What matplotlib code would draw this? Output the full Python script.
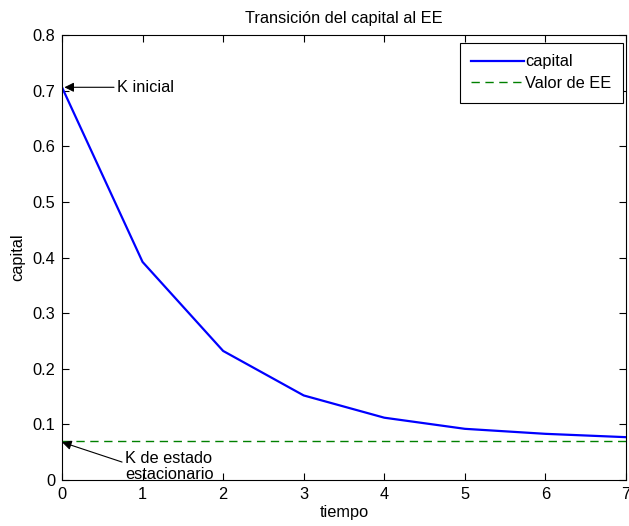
import matplotlib
matplotlib.use("Agg")
import matplotlib.pyplot as plt

# data
tiempo = [0, 1, 2, 3, 4, 5, 6, 7]
capital = [0.706, 0.392, 0.232, 0.152, 0.112, 0.092, 0.083, 0.077]
k_ee = 0.071

plt.rcParams['font.family'] = ['Liberation Sans', 'DejaVu Sans']
plt.rcParams['font.size'] = 11.8

fig = plt.figure(figsize=(6.29, 5.26), dpi=100)
ax = fig.add_axes([62 / 629, 1 - 480 / 526, 564 / 629, 445 / 526])

ax.plot(tiempo, capital, color='#0000FF', lw=1.6, label='capital')
ax.plot([tiempo[0], tiempo[-1]], [k_ee, k_ee], color='#008000', lw=1.0,
        ls=(0, (6, 4)), label='Valor de EE')

ax.set_xlim(0, 7)
ax.set_ylim(0, 0.8)
ax.set_xticks(range(8))
ax.set_yticks([0, 0.1, 0.2, 0.3, 0.4, 0.5, 0.6, 0.7, 0.8])
ax.set_yticklabels(['0', '0.1', '0.2', '0.3', '0.4', '0.5', '0.6', '0.7', '0.8'])
ax.tick_params(direction='in', top=True, right=True, length=5, width=0.8)
ax.tick_params(axis='x', pad=5)
ax.tick_params(axis='y', pad=5)
for s in ax.spines.values():
    s.set_linewidth(0.8)

ax.set_title('Transición del capital al EE', fontsize=11.8, pad=9)
ax.set_xlabel('tiempo', labelpad=2)
ax.set_ylabel('capital', labelpad=5)

ax.annotate('K inicial', xy=(0.03, capital[0]), xytext=(0.68, capital[0]),
            va='center', ha='left',
            arrowprops=dict(arrowstyle='-|>', color='black', lw=0.8,
                            mutation_scale=14, shrinkA=0, shrinkB=0))
ax.annotate('K de estado\nestacionario', xy=(0.0, 0.068), xytext=(0.78, 0.024),
            va='center', ha='left', linespacing=1.05,
            arrowprops=dict(arrowstyle='-|>', color='black', lw=0.8,
                            mutation_scale=14, shrinkA=0, shrinkB=0,
                            relpos=(0.0, 0.62)))

leg = ax.legend(loc='upper right', bbox_to_anchor=(623 / 629, 1 - 43 / 526),
                bbox_transform=fig.transFigure, borderaxespad=0,
                fancybox=False, framealpha=1, edgecolor='black',
                handlelength=3.2, handletextpad=0.1, borderpad=0.7,
                labelspacing=0.4)
leg.get_frame().set_linewidth(0.8)

fig.savefig('out.png', dpi=100, facecolor='white')
